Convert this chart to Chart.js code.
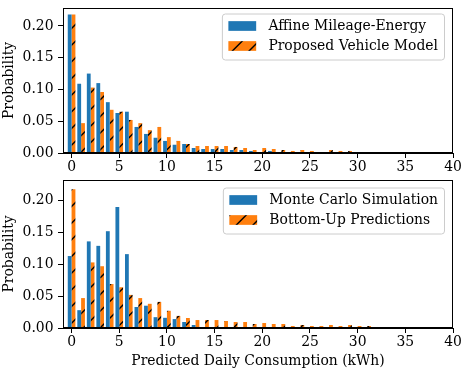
<!DOCTYPE html>
<html>
<head>
<meta charset="utf-8">
<script src="https://cdn.jsdelivr.net/npm/chart.js@4.4.0/dist/chart.umd.min.js"></script>
<style>
  html, body { margin: 0; padding: 0; background: #fff; }
  #wrap { position: relative; width: 463px; height: 370px; }
  .panel { position: absolute; left: 0; width: 463px; }
</style>
</head>
<body>
<div id="wrap">
  <div class="panel" style="top:0;height:178px"><canvas id="topCanvas"></canvas></div>
  <div class="panel" style="top:178px;height:192px"><canvas id="bottomCanvas"></canvas></div>
</div>
<script>
// kWh bins (bar centres)
const bins = Array.from({ length: 40 }, (_, i) => i);

// top panel
const affineMileage = [
  0.218, 0.109, 0.125, 0.110, 0.080, 0.063, 0.065, 0.041, 0.030, 0.024,
  0.019, 0.013, 0.0142, 0.0079, 0.0063, 0.0063, 0.0063, 0.0047, 0.0047, 0.0032,
  0.0016, 0.0032, 0.0016, 0.0016, 0.0016, 0.0016, 0.0012, 0, 0, 0,
  0, 0, 0, 0, 0, 0, 0, 0, 0, 0,
];
const proposedModel = [
  0.218, 0.047, 0.103, 0.096, 0.068, 0.065, 0.052, 0.047, 0.036, 0.041,
  0.025, 0.019, 0.0142, 0.011, 0.011, 0.011, 0.011, 0.0095, 0.0079, 0.0047,
  0.0079, 0.0063, 0.0047, 0.0032, 0.0047, 0.0032, 0.0016, 0.0047, 0.0032, 0.0032,
  0.0016, 0.0016, 0.0016, 0, 0.0016, 0.0016, 0.0016, 0, 0, 0,
];

// bottom panel
const monteCarlo = [
  0.113, 0.028, 0.136, 0.129, 0.152, 0.190, 0.116, 0.033, 0.035, 0.017,
  0.016, 0.014, 0.0094, 0.0047, 0.0016, 0.0016, 0, 0, 0, 0,
  0, 0, 0, 0, 0, 0, 0, 0, 0, 0,
  0, 0, 0, 0, 0, 0, 0, 0, 0, 0,
];
const bottomUp = [
  0.218, 0.047, 0.103, 0.097, 0.069, 0.064, 0.052, 0.047, 0.038, 0.041,
  0.027, 0.019, 0.0157, 0.0125, 0.0125, 0.0125, 0.011, 0.0094, 0.0094, 0.0063,
  0.0078, 0.0063, 0.0063, 0.0031, 0.0047, 0.0031, 0.0031, 0.0047, 0.0031, 0.0047,
  0.0031, 0.0031, 0.0016, 0.0016, 0.0016, 0.0016, 0.0016, 0.0016, 0.0016, 0.0016,
];

const xTicks = [0, 5, 10, 15, 20, 25, 30, 35, 40];
const yTicks = [0, 0.05, 0.1, 0.15, 0.2];

const BLUE = "#1f77b4";
const ORANGE = "#ff7f0e";
const FONT = "'DejaVu Serif', serif";

Chart.defaults.font.family = FONT;
Chart.defaults.font.size = 13.9;
Chart.defaults.color = "#000";

// matplotlib style '/' hatch
const makeHatch = (color) => {
  const c = document.createElement("canvas");
  c.width = 100;
  c.height = 100;
  const g = c.getContext("2d");
  g.fillStyle = color;
  g.fillRect(0, 0, 100, 100);
  g.strokeStyle = "#000";
  g.lineWidth = 1.4;
  for (let i = -6; i <= 6; i++) {
    const o = (i * 100) / 6;
    g.beginPath();
    g.moveTo(o, 100);
    g.lineTo(o + 100, 0);
    g.stroke();
  }
  return g.createPattern(c, "repeat");
};
const hatch = makeHatch(ORANGE);

// top + right spines
const frame = {
  id: "frame",
  afterDatasetsDraw(chart) {
    const { ctx, chartArea: a } = chart;
    ctx.save();
    ctx.strokeStyle = "#000";
    ctx.lineWidth = 1;
    const l = Math.round(a.left) + 0.5, t = Math.round(a.top) + 0.5;
    const r = Math.round(a.right) - 0.5, b = Math.round(a.bottom) - 0.5;
    ctx.strokeRect(l, t, r - l, b - t);
    ctx.restore();
  },
};

// boxed legend in the upper right, like matplotlib's
const boxLegend = {
  id: "boxLegend",
  afterDraw(chart, args, opts) {
    const { ctx, chartArea } = chart;
    const sets = chart.data.datasets;
    ctx.save();
    ctx.font = "13.9px " + FONT;
    const textW = Math.max(...sets.map((d) => ctx.measureText(d.label).width));
    const w = 46 + textW + 6.5;
    const h = 46;
    const x = chartArea.right - 8.5 - w;
    const y = chartArea.top + opts.dy;
    ctx.beginPath();
    ctx.roundRect(x, y, w, h, 3);
    ctx.fillStyle = "rgba(255,255,255,0.8)";
    ctx.fill();
    ctx.strokeStyle = "#cccccc";
    ctx.lineWidth = 1;
    ctx.stroke();
    sets.forEach((d, i) => {
      const cy = y + 12 + i * 20;
      ctx.fillStyle = d.backgroundColor;
      ctx.fillRect(x + 6, cy - 4.85, 27.8, 9.7);
      ctx.fillStyle = "#000";
      ctx.textBaseline = "middle";
      ctx.textAlign = "left";
      ctx.fillText(d.label, x + 46, cy);
    });
    ctx.restore();
  },
};

const makeChart = (id, labelA, seriesA, labelB, seriesB, yMax, padTop, xHeight, xTitle, legendDy) => {
  const ctx = document.getElementById(id).getContext("2d");
  return new Chart(ctx, {
    type: "bar",
    data: {
      datasets: [
        {
          label: labelA,
          data: bins.map((b, i) => ({ x: b, y: seriesA[i] })),
          backgroundColor: BLUE,
          borderWidth: 0,
          categoryPercentage: 0.8,
          barPercentage: 1.0,
        },
        {
          label: labelB,
          data: bins.map((b, i) => ({ x: b, y: seriesB[i] })),
          backgroundColor: hatch,
          borderWidth: 0,
          categoryPercentage: 0.8,
          barPercentage: 1.0,
        },
      ],
    },
    options: {
      responsive: true,
      maintainAspectRatio: false,
      animation: false,
      layout: { padding: { top: padTop, right: 10, left: 0, bottom: 0 } },
      plugins: {
        legend: { display: false },
        tooltip: { enabled: false },
        boxLegend: { dy: legendDy },
      },
      scales: {
        x: {
          type: "linear",
          min: -0.9,
          max: 40,
          offset: false,
          grid: { display: true, drawOnChartArea: false, drawTicks: true, tickLength: 5, color: "#000", offset: false },
          border: { display: true, color: "#000", width: 1 },
          ticks: { padding: 1, maxRotation: 0, autoSkip: false, callback: (v) => String(v) },
          afterBuildTicks: (s) => { s.ticks = xTicks.map((v) => ({ value: v })); },
          afterFit: (s) => { s.height = xHeight; s.paddingLeft = 0; s.paddingRight = 0; },
          title: { display: !!xTitle, text: xTitle || "", padding: { top: 0, bottom: 0 } },
        },
        y: {
          min: 0,
          max: yMax,
          grid: { display: true, drawOnChartArea: false, drawTicks: true, tickLength: 5, color: "#000" },
          border: { display: true, color: "#000", width: 1 },
          ticks: { padding: 4.5, callback: (v) => v.toFixed(2) },
          afterBuildTicks: (s) => { s.ticks = yTicks.map((v) => ({ value: v })); },
          afterFit: (s) => { s.width = 63; s.paddingTop = 0; s.paddingBottom = 0; },
          title: { display: true, text: "Probability", padding: { top: 1, bottom: 0 } },
        },
      },
    },
    plugins: [frame, boxLegend],
  });
};

makeChart("topCanvas", "Affine Mileage-Energy", affineMileage,
  "Proposed Vehicle Model", proposedModel, 0.2282, 8, 25, null, 6);
makeChart("bottomCanvas", "Monte Carlo Simulation", monteCarlo,
  "Bottom-Up Predictions", bottomUp, 0.2324, 2, 42, "Predicted Daily Consumption (kWh)", 8);
</script>
</body>
</html>
